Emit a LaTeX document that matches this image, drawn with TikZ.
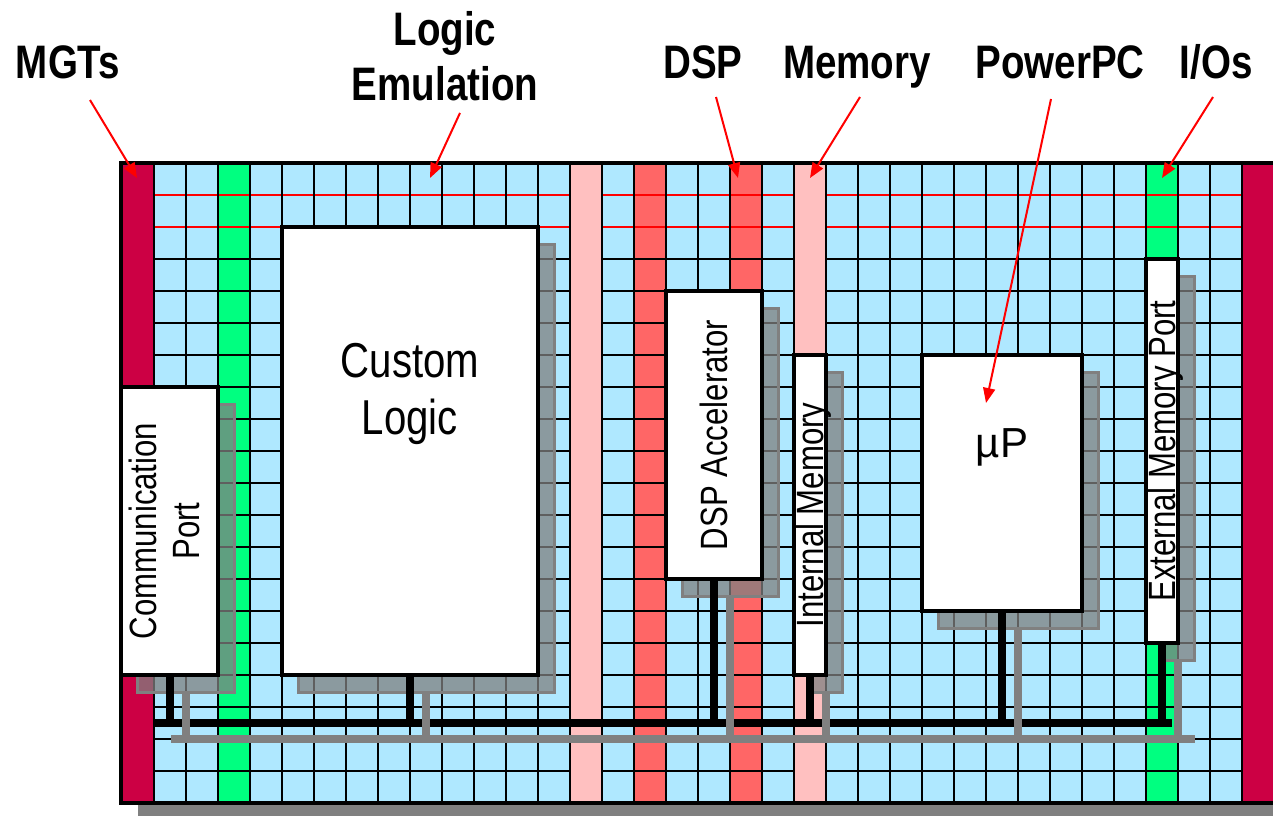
\documentclass[tikz,border=0pt]{standalone}
\usepackage{fontspec}
\setmainfont{Liberation Sans}[FakeStretch=0.82]
\newfontfamily\widefont{Liberation Sans}
\usetikzlibrary{arrows.meta,shadows}
\definecolor{fabblue}{HTML}{AFE8FF}
\definecolor{fabgreen}{HTML}{00FF80}
\definecolor{fabsalmon}{HTML}{FF6666}
\definecolor{fabpink}{HTML}{FFC0C0}
\definecolor{fabmgt}{HTML}{CC0044}
\definecolor{fabgray}{HTML}{808080}
\newcommand{\vtxt}[1]{\makebox[0pt]{\rotatebox{90}{\raisebox{0pt}[\height][0pt]{#1}}}}
\tikzset{
  blk/.style={draw=black, fill=white, line width=4pt, inner sep=0pt, outer sep=0pt, anchor=north west,
    font=\fontsize{38}{43}\selectfont,
    drop shadow={shadow xshift=16pt, shadow yshift=-17pt, opacity=1, fill=fabgray, fill opacity=.75, draw=fabgray, line width=3pt}},
  boxtxt/.style={align=center, inner sep=0pt},
  ttl/.style={font=\bfseries\fontsize{47}{55}\selectfont, inner sep=0pt, align=center},
  ptr/.style={-{Triangle[length=15pt,width=12pt]}, red, line width=2pt},
  gridln/.style={line width=2.4pt, black},
  redln/.style={line width=1.8pt, red},
  bbus/.style={line width=8pt, black},
  gbus/.style={line width=8pt, fabgray},
}
\begin{document}
\begin{tikzpicture}[x=1pt, y=-1pt]
  \useasboundingbox (0,0) rectangle (1273,816);
  % fabric with its shadow
  \fill[fabgray] (138,180) rectangle (1273,816);
  \fill[fabblue] (121,163) rectangle (1276,803);
  \fill[fabmgt] (121,163) rectangle (154,803);
  \fill[fabmgt] (1242,163) rectangle (1276,803);
  \fill[fabgreen] (218,163) rectangle (250,803);
  \fill[fabgreen] (1146,163) rectangle (1178,803);
  \fill[fabsalmon] (634,163) rectangle (666,803);
  \fill[fabsalmon] (730,163) rectangle (762,803);
  \foreach \j in {1,...,19}
    \draw[gridln] (154,163+32*\j) -- (1242,163+32*\j);
  \draw[redln] (154,195) -- (1242,195);
  \draw[redln] (154,227) -- (1242,227);
  \fill[fabpink] (570,163) rectangle (602,803);
  \fill[fabpink] (794,163) rectangle (826,803);
  \foreach \i in {0,...,34}
    \draw[gridln] (154+32*\i,163) -- (154+32*\i,803);
  \draw[line width=4.5pt] (121,163) rectangle (1276,803);

  % blocks
  \node[blk, minimum width=97, minimum height=288] (comm) at (121,387)
    {\makebox[0pt]{\rotatebox{90}{\begin{tabular}{@{}c@{}}Communication\\Port\end{tabular}}}};
  \node[blk, minimum width=256, minimum height=448,
    label={[boxtxt, name=cust-txt, font=\fontsize{49}{57}\selectfont, yshift=57pt]center:Custom\\Logic}] (cust) at (282,227) {};
  \node[blk, minimum width=96, minimum height=288] (dsp) at (666,291) {\vtxt{DSP Accelerator}};
  \node[blk, minimum width=32, minimum height=320] (imem) at (794,355) {\vtxt{Internal Memory}};
  \node[blk, minimum width=160, minimum height=256,
    label={[boxtxt, name=up-txt, font=\widefont\fontsize{42}{50}\selectfont, yshift=36pt]center:µP}] (up) at (922,355) {};
  \node[blk, minimum width=32, minimum height=384] (xmem) at (1146,259) {\vtxt{External Memory Port}};

  % buses
  \coordinate (bbus-w) at (154,723);
  \coordinate (bbus-e) at (1172,723);
  \coordinate (gbus-w) at (171,739);
  \coordinate (gbus-e) at (1195,739);
  \draw[bbus] (bbus-w) -- (bbus-e);
  \foreach \b in {comm,cust,dsp,imem,up,xmem}
    \draw[bbus] (\b.south) -- (\b.south |- bbus-w);
  \draw[gbus] (gbus-w) -- (gbus-e);
  \foreach \b in {comm,cust,dsp,imem,up,xmem}
    \draw[gbus] ([shift={(16,17)}]\b.south) -- ([xshift=16pt]\b.south |- gbus-w);

  % titles
  \node[ttl, anchor=base] (mgts-t) at (68,78) {MGTs};
  \node[ttl, anchor=north] (logic-t) at (445,11) {Logic\\Emulation};
  \node[ttl, anchor=base] (dsp-t) at (703,78) {DSP};
  \node[ttl, anchor=base] (mem-t) at (857,78) {Memory};
  \node[ttl, anchor=base] (ppc-t) at (1060,78) {PowerPC};
  \node[ttl, anchor=base] (io-t) at (1216,78) {I/Os};
  \coordinate (mgts-tip) at (137,178);
  \coordinate (logic-tip) at (430,178);
  \coordinate (dsp-tip) at (738,178);
  \coordinate (mem-tip) at (810,178);
  \coordinate (ppc-tip) at (986,403);
  \coordinate (io-tip) at (1162,178);
  \draw[ptr] ([shift={(22,22)}]mgts-t.base) -- (mgts-tip);
  \draw[ptr] ([shift={(15,12)}]logic-t.south) -- (logic-tip);
  \draw[ptr] ([shift={(13,19)}]dsp-t.base) -- (dsp-tip);
  \draw[ptr] ([shift={(3,19)}]mem-t.base) -- (mem-tip);
  \draw[ptr] ([shift={(-9,21)}]ppc-t.base) -- (ppc-tip);
  \draw[ptr] ([shift={(-3,19)}]io-t.base) -- (io-tip);
\end{tikzpicture}
\end{document}
